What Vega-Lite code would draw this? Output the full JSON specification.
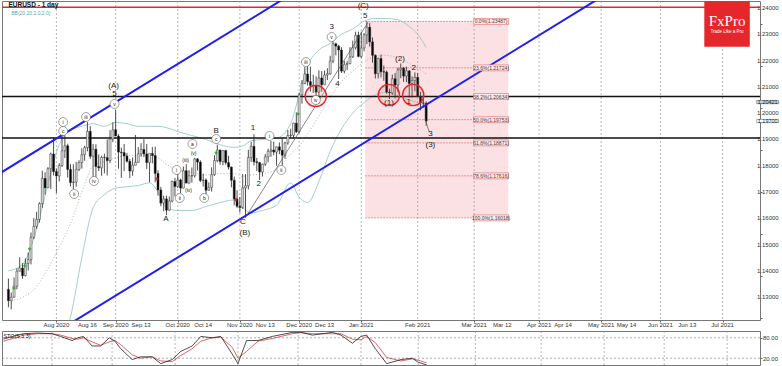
{
"$schema":"https://vega.github.io/schema/vega-lite/v6.json",
"padding":0,
"background":"white",
"spacing":1,
"config":{"view":{"stroke":"#777","strokeWidth":1},"font":"Liberation Sans","axis":{"title":null,"grid":false}},
"datasets":{
"c":[
{"i":0,"o":1.1330,"h":1.1371,"l":1.1262,"c":1.1287},{"i":1,"o":1.1287,"h":1.1318,"l":1.1254,"c":1.1300},{"i":2,"o":1.1300,"h":1.1375,"l":1.1298,"c":1.1342},{"i":3,"o":1.1342,"h":1.1410,"l":1.1330,"c":1.1399},{"i":4,"o":1.1399,"h":1.1452,"l":1.1398,"c":1.1411},{"i":5,"o":1.1411,"h":1.1430,"l":1.1370,"c":1.1382},{"i":6,"o":1.1382,"h":1.1448,"l":1.1379,"c":1.1428},{"i":7,"o":1.1428,"h":1.1470,"l":1.1402,"c":1.1443},{"i":8,"o":1.1443,"h":1.1546,"l":1.1425,"c":1.1528},{"i":9,"o":1.1528,"h":1.1601,"l":1.1521,"c":1.1570},
{"i":10,"o":1.1570,"h":1.1625,"l":1.1560,"c":1.1596},{"i":11,"o":1.1596,"h":1.1661,"l":1.1584,"c":1.1656},{"i":12,"o":1.1656,"h":1.1781,"l":1.1640,"c":1.1752},{"i":13,"o":1.1752,"h":1.1775,"l":1.1690,"c":1.1716},{"i":14,"o":1.1716,"h":1.1795,"l":1.1715,"c":1.1789},{"i":15,"o":1.1789,"h":1.1850,"l":1.1712,"c":1.1845},{"i":16,"o":1.1845,"h":1.1909,"l":1.1763,"c":1.1778},{"i":17,"o":1.1778,"h":1.1790,"l":1.1696,"c":1.1761},{"i":18,"o":1.1761,"h":1.1810,"l":1.1740,"c":1.1801},{"i":19,"o":1.1801,"h":1.1916,"l":1.1795,"c":1.1857},
{"i":20,"o":1.1857,"h":1.1916,"l":1.1829,"c":1.1876},{"i":21,"o":1.1876,"h":1.1884,"l":1.1755,"c":1.1786},{"i":22,"o":1.1786,"h":1.1806,"l":1.1721,"c":1.1736},{"i":23,"o":1.1736,"h":1.1806,"l":1.1711,"c":1.1738},{"i":24,"o":1.1738,"h":1.1815,"l":1.1720,"c":1.1786},{"i":25,"o":1.1786,"h":1.1821,"l":1.1779,"c":1.1812},{"i":26,"o":1.1812,"h":1.1866,"l":1.1789,"c":1.1842},{"i":27,"o":1.1842,"h":1.1876,"l":1.1819,"c":1.1869},{"i":28,"o":1.1869,"h":1.1966,"l":1.1855,"c":1.1931},{"i":29,"o":1.1931,"h":1.1951,"l":1.1826,"c":1.1836},
{"i":30,"o":1.1836,"h":1.1883,"l":1.1753,"c":1.1863},{"i":31,"o":1.1863,"h":1.1882,"l":1.1753,"c":1.1797},{"i":32,"o":1.1797,"h":1.1843,"l":1.1780,"c":1.1792},{"i":33,"o":1.1792,"h":1.1838,"l":1.1762,"c":1.1832},{"i":34,"o":1.1832,"h":1.1846,"l":1.1771,"c":1.1831},{"i":35,"o":1.1831,"h":1.1900,"l":1.1763,"c":1.1820},{"i":36,"o":1.1820,"h":1.1935,"l":1.1810,"c":1.1902},{"i":37,"o":1.1902,"h":1.1965,"l":1.1890,"c":1.1937},{"i":38,"o":1.1937,"h":1.2011,"l":1.1914,"c":1.1913},{"i":39,"o":1.1913,"h":1.1920,"l":1.1789,"c":1.1852},
{"i":40,"o":1.1852,"h":1.1869,"l":1.1754,"c":1.1850},{"i":41,"o":1.1850,"h":1.1883,"l":1.1780,"c":1.1837},{"i":42,"o":1.1837,"h":1.1849,"l":1.1812,"c":1.1817},{"i":43,"o":1.1817,"h":1.1826,"l":1.1753,"c":1.1780},{"i":44,"o":1.1780,"h":1.1831,"l":1.1762,"c":1.1802},{"i":45,"o":1.1802,"h":1.1917,"l":1.1802,"c":1.1813},{"i":46,"o":1.1813,"h":1.1871,"l":1.1812,"c":1.1845},{"i":47,"o":1.1845,"h":1.1886,"l":1.1834,"c":1.1862},{"i":48,"o":1.1862,"h":1.1901,"l":1.1833,"c":1.1845},{"i":49,"o":1.1845,"h":1.1883,"l":1.1788,"c":1.1812},
{"i":50,"o":1.1812,"h":1.1826,"l":1.1737,"c":1.1847},{"i":51,"o":1.1847,"h":1.1871,"l":1.1809,"c":1.1839},{"i":52,"o":1.1839,"h":1.1873,"l":1.1737,"c":1.1771},{"i":53,"o":1.1771,"h":1.1783,"l":1.1686,"c":1.1708},{"i":54,"o":1.1708,"h":1.1720,"l":1.1646,"c":1.1658},{"i":55,"o":1.1658,"h":1.1686,"l":1.1627,"c":1.1674},{"i":56,"o":1.1674,"h":1.1686,"l":1.1612,"c":1.1631},{"i":57,"o":1.1631,"h":1.1683,"l":1.1629,"c":1.1666},{"i":58,"o":1.1666,"h":1.1744,"l":1.1661,"c":1.1740},{"i":59,"o":1.1740,"h":1.1754,"l":1.1684,"c":1.1721},
{"i":60,"o":1.1721,"h":1.1771,"l":1.1715,"c":1.1746},{"i":61,"o":1.1746,"h":1.1751,"l":1.1696,"c":1.1715},{"i":62,"o":1.1715,"h":1.1797,"l":1.1714,"c":1.1781},{"i":63,"o":1.1781,"h":1.1806,"l":1.1737,"c":1.1734},{"i":64,"o":1.1734,"h":1.1783,"l":1.1732,"c":1.1762},{"i":65,"o":1.1762,"h":1.1794,"l":1.1736,"c":1.1762},{"i":66,"o":1.1762,"h":1.1830,"l":1.1755,"c":1.1826},{"i":67,"o":1.1826,"h":1.1829,"l":1.1782,"c":1.1814},{"i":68,"o":1.1814,"h":1.1821,"l":1.1738,"c":1.1744},{"i":69,"o":1.1744,"h":1.1770,"l":1.1721,"c":1.1746},
{"i":70,"o":1.1746,"h":1.1752,"l":1.1689,"c":1.1707},{"i":71,"o":1.1707,"h":1.1737,"l":1.1705,"c":1.1718},{"i":72,"o":1.1718,"h":1.1794,"l":1.1702,"c":1.1766},{"i":73,"o":1.1766,"h":1.1840,"l":1.1762,"c":1.1820},{"i":74,"o":1.1820,"h":1.1880,"l":1.1813,"c":1.1860},{"i":75,"o":1.1860,"h":1.1861,"l":1.1804,"c":1.1816},{"i":76,"o":1.1816,"h":1.1860,"l":1.1802,"c":1.1858},{"i":77,"o":1.1858,"h":1.1861,"l":1.1804,"c":1.1812},{"i":78,"o":1.1812,"h":1.1838,"l":1.1786,"c":1.1795},{"i":79,"o":1.1795,"h":1.1797,"l":1.1718,"c":1.1745},
{"i":80,"o":1.1745,"h":1.1759,"l":1.1650,"c":1.1674},{"i":81,"o":1.1674,"h":1.1707,"l":1.1640,"c":1.1646},{"i":82,"o":1.1646,"h":1.1681,"l":1.1622,"c":1.1641},{"i":83,"o":1.1641,"h":1.1769,"l":1.1636,"c":1.1716},{"i":84,"o":1.1716,"h":1.1768,"l":1.1603,"c":1.1724},{"i":85,"o":1.1724,"h":1.1861,"l":1.1710,"c":1.1831},{"i":86,"o":1.1831,"h":1.1891,"l":1.1815,"c":1.1874},{"i":87,"o":1.1874,"h":1.1920,"l":1.1801,"c":1.1815},{"i":88,"o":1.1815,"h":1.1830,"l":1.1780,"c":1.1812},{"i":89,"o":1.1812,"h":1.1815,"l":1.1746,"c":1.1776},
{"i":90,"o":1.1776,"h":1.1808,"l":1.1759,"c":1.1806},{"i":91,"o":1.1806,"h":1.1845,"l":1.1799,"c":1.1834},{"i":92,"o":1.1834,"h":1.1865,"l":1.1813,"c":1.1855},{"i":93,"o":1.1855,"h":1.1894,"l":1.1834,"c":1.1860},{"i":94,"o":1.1860,"h":1.1892,"l":1.1840,"c":1.1852},{"i":95,"o":1.1852,"h":1.1873,"l":1.1800,"c":1.1872},{"i":96,"o":1.1872,"h":1.1889,"l":1.1844,"c":1.1859},{"i":97,"o":1.1859,"h":1.1906,"l":1.1801,"c":1.1840},{"i":98,"o":1.1840,"h":1.1891,"l":1.1826,"c":1.1887},{"i":99,"o":1.1887,"h":1.1936,"l":1.1880,"c":1.1915},
{"i":100,"o":1.1915,"h":1.1941,"l":1.1905,"c":1.1916},{"i":101,"o":1.1916,"h":1.1964,"l":1.1903,"c":1.1962},{"i":102,"o":1.1962,"h":1.2003,"l":1.1925,"c":1.1929},{"i":103,"o":1.1929,"h":1.2077,"l":1.1923,"c":1.2070},{"i":104,"o":1.2070,"h":1.2126,"l":1.2036,"c":1.2113},{"i":105,"o":1.2113,"h":1.2176,"l":1.2110,"c":1.2149},{"i":106,"o":1.2149,"h":1.2178,"l":1.2105,"c":1.2120},{"i":107,"o":1.2120,"h":1.2177,"l":1.2082,"c":1.2106},{"i":108,"o":1.2106,"h":1.2146,"l":1.2077,"c":1.2105},{"i":109,"o":1.2105,"h":1.2140,"l":1.2058,"c":1.2080},
{"i":110,"o":1.2080,"h":1.2163,"l":1.2036,"c":1.2134},{"i":111,"o":1.2134,"h":1.2160,"l":1.2081,"c":1.2108},{"i":112,"o":1.2108,"h":1.2162,"l":1.2107,"c":1.2145},{"i":113,"o":1.2145,"h":1.2171,"l":1.2126,"c":1.2150},{"i":114,"o":1.2150,"h":1.2218,"l":1.2146,"c":1.2198},{"i":115,"o":1.2198,"h":1.2273,"l":1.2190,"c":1.2264},{"i":116,"o":1.2264,"h":1.2268,"l":1.2220,"c":1.2255},{"i":117,"o":1.2255,"h":1.2260,"l":1.2130,"c":1.2240},{"i":118,"o":1.2240,"h":1.2251,"l":1.2153,"c":1.2160},{"i":119,"o":1.2160,"h":1.2199,"l":1.2151,"c":1.2186},
{"i":120,"o":1.2186,"h":1.2199,"l":1.2164,"c":1.2188},{"i":121,"o":1.2188,"h":1.2251,"l":1.2186,"c":1.2214},{"i":122,"o":1.2214,"h":1.2276,"l":1.2210,"c":1.2249},{"i":123,"o":1.2249,"h":1.2310,"l":1.2242,"c":1.2296},{"i":124,"o":1.2296,"h":1.2310,"l":1.2212,"c":1.2216},{"i":125,"o":1.2216,"h":1.2310,"l":1.2210,"c":1.2248},{"i":126,"o":1.2248,"h":1.2305,"l":1.2235,"c":1.2298},{"i":127,"o":1.2298,"h":1.2349,"l":1.2263,"c":1.2327},{"i":128,"o":1.2327,"h":1.2343,"l":1.2253,"c":1.2271},{"i":129,"o":1.2271,"h":1.2288,"l":1.2192,"c":1.2220},
{"i":130,"o":1.2220,"h":1.2224,"l":1.2132,"c":1.2150},{"i":131,"o":1.2150,"h":1.2211,"l":1.2132,"c":1.2208},{"i":132,"o":1.2208,"h":1.2223,"l":1.2136,"c":1.2158},{"i":133,"o":1.2158,"h":1.2181,"l":1.2123,"c":1.2156},{"i":134,"o":1.2156,"h":1.2162,"l":1.2074,"c":1.2080},{"i":135,"o":1.2080,"h":1.2093,"l":1.2054,"c":1.2077},{"i":136,"o":1.2077,"h":1.2147,"l":1.2070,"c":1.2131},{"i":137,"o":1.2131,"h":1.2153,"l":1.2056,"c":1.2107},{"i":138,"o":1.2107,"h":1.2173,"l":1.2080,"c":1.2165},{"i":139,"o":1.2165,"h":1.2189,"l":1.2133,"c":1.2171},
{"i":140,"o":1.2171,"h":1.2176,"l":1.2119,"c":1.2141},{"i":141,"o":1.2141,"h":1.2177,"l":1.2118,"c":1.2161},{"i":142,"o":1.2161,"h":1.2163,"l":1.2059,"c":1.2113},{"i":143,"o":1.2113,"h":1.2140,"l":1.2059,"c":1.2124},{"i":144,"o":1.2124,"h":1.2155,"l":1.2083,"c":1.2136},{"i":145,"o":1.2136,"h":1.2153,"l":1.2062,"c":1.2063},{"i":146,"o":1.2063,"h":1.2081,"l":1.2011,"c":1.2039},{"i":147,"o":1.2039,"h":1.2067,"l":1.2021,"c":1.2038},{"i":148,"o":1.2038,"h":1.2045,"l":1.1952,"c":1.1970}
],
"bb":[
{"i":0,"u":1.1400,"m":1.1286,"lo":1.1172},{"i":5,"u":1.1425,"m":1.1300,"lo":1.1175},{"i":10,"u":1.1560,"m":1.1340,"lo":1.1120},{"i":14,"u":1.1730,"m":1.1410,"lo":1.1090},{"i":18,"u":1.1880,"m":1.1490,"lo":1.1100},{"i":22,"u":1.1935,"m":1.1580,"lo":1.1225},{"i":26,"u":1.1950,"m":1.1700,"lo":1.1450},{"i":30,"u":1.1960,"m":1.1800,"lo":1.1640},{"i":34,"u":1.1950,"m":1.1815,"lo":1.1690},{"i":38,"u":1.1965,"m":1.1830,"lo":1.1715},{"i":42,"u":1.1960,"m":1.1840,"lo":1.1720},{"i":46,"u":1.1950,"m":1.1840,"lo":1.1725},{"i":50,"u":1.1950,"m":1.1840,"lo":1.1735},{"i":53,"u":1.1950,"m":1.1830,"lo":1.1700},{"i":56,"u":1.1945,"m":1.1805,"lo":1.1640},{"i":60,"u":1.1930,"m":1.1785,"lo":1.1630},{"i":65,"u":1.1915,"m":1.1775,"lo":1.1630},{"i":70,"u":1.1900,"m":1.1765,"lo":1.1645},{"i":75,"u":1.1880,"m":1.1770,"lo":1.1660},{"i":80,"u":1.1870,"m":1.1770,"lo":1.1670},{"i":83,"u":1.1875,"m":1.1760,"lo":1.1640},{"i":86,"u":1.1895,"m":1.1765,"lo":1.1620},{"i":90,"u":1.1900,"m":1.1770,"lo":1.1630},{"i":95,"u":1.1905,"m":1.1785,"lo":1.1650},{"i":100,"u":1.1960,"m":1.1845,"lo":1.1735},{"i":103,"u":1.2070,"m":1.1875,"lo":1.1680},{"i":106,"u":1.2180,"m":1.1920,"lo":1.1660},{"i":110,"u":1.2240,"m":1.1990,"lo":1.1740},{"i":114,"u":1.2265,"m":1.2060,"lo":1.1855},{"i":118,"u":1.2300,"m":1.2120,"lo":1.1940},{"i":122,"u":1.2320,"m":1.2160,"lo":1.2000},{"i":126,"u":1.2350,"m":1.2195,"lo":1.2040},{"i":130,"u":1.2360,"m":1.2215,"lo":1.2070},{"i":134,"u":1.2360,"m":1.2220,"lo":1.2080},{"i":138,"u":1.2355,"m":1.2210,"lo":1.2065},{"i":142,"u":1.2330,"m":1.2190,"lo":1.2050},{"i":145,"u":1.2300,"m":1.2170,"lo":1.2040},{"i":148,"u":1.2250,"m":1.2150,"lo":1.2020}
],
"grid":[{"i":17},{"i":38},{"i":60},{"i":82},{"i":103},{"i":125},{"i":145},{"i":165},{"i":188},{"i":210},{"i":231},{"i":253}],
"xlab":[{"i":17,"t":"Aug 2020"},{"i":28,"t":"Aug 16"},{"i":38,"t":"Sep 2020"},{"i":47,"t":"Sep 13"},{"i":60,"t":"Oct 2020"},{"i":69,"t":"Oct 14"},{"i":82,"t":"Nov 2020"},{"i":91,"t":"Nov 13"},{"i":103,"t":"Dec 2020"},{"i":112,"t":"Dec 13"},{"i":125,"t":"Jan 2021"},{"i":145,"t":"Feb 2021"},{"i":165,"t":"Mar 2021"},{"i":175,"t":"Mar 12"},{"i":188,"t":"Apr 2021"},{"i":196.5,"t":"Apr 14"},{"i":210,"t":"May 2021"},{"i":219,"t":"May 14"},{"i":231,"t":"Jun 2021"},{"i":240.5,"t":"Jun 13"},{"i":253,"t":"Jul 2021"}],
"ylab":[{"p":1.13,"t":"1.13000"},{"p":1.14,"t":"1.14000"},{"p":1.15,"t":"1.15000"},{"p":1.16,"t":"1.16000"},{"p":1.17,"t":"1.17000"},{"p":1.18,"t":"1.18000"},{"p":1.19,"t":"1.19000"},{"p":1.2,"t":"1.20000"},{"p":1.21,"t":"1.21000"},{"p":1.22,"t":"1.22000"},{"p":1.23,"t":"1.23000"},{"p":1.24,"t":"1.24000"}],
"hl":[{"p":1.2403,"k":"red"},{"p":1.2063,"k":"black"},{"p":1.1906,"k":"black"}],
"seg":[{"i":-10,"i2":110,"p":1.17253,"p2":1.25173,"k":"blue"},{"i":15,"i2":220,"p":1.11543,"p2":1.25073,"k":"blue"},{"i":84,"i2":127.3,"p":1.1603,"p2":1.2344,"k":"trend"},{"i":147.6,"i2":149.1,"p":1.1978,"p2":1.1928,"k":"trend"}],
"fibbox":[{"i":126.4,"i2":177.1,"p":1.23487,"p2":1.16018}],
"fib":[{"p":1.23487,"t":"0.0%(1.23487)"},{"p":1.21724,"t":"23.6%(1.21724)"},{"p":1.20634,"t":"38.2%(1.20634)"},{"p":1.19753,"t":"50.0%(1.19753)"},{"p":1.18871,"t":"61.8%(1.18871)"},{"p":1.17616,"t":"78.6%(1.17616)"},{"p":1.16018,"t":"100.0%(1.16018)"}],
"circ":[{"i":108.9,"p":1.20654},{"i":134.8,"p":1.20692},{"i":143.4,"p":1.20692}],
"wl":[{"i":37.3,"p":1.21033,"t":"(A)"},{"i":37.6,"p":1.20729,"t":"5"},{"i":125.7,"p":1.24076,"t":"(C)"},{"i":126.4,"p":1.23696,"t":"5"},{"i":114.5,"p":1.23277,"t":"3"},{"i":116.6,"p":1.21109,"t":"4"},{"i":73.6,"p":1.19322,"t":"B"},{"i":55.8,"p":1.15975,"t":"A"},{"i":83.1,"p":1.15861,"t":"C"},{"i":83.8,"p":1.15443,"t":"(B)"},{"i":86.6,"p":1.19436,"t":"1"},{"i":88.7,"p":1.17306,"t":"2"},{"i":134.8,"p":1.20387,"t":"(1)"},{"i":138.7,"p":1.2206,"t":"(2)"},{"i":141.8,"p":1.20425,"t":"1"},{"i":143.6,"p":1.21718,"t":"2"},{"i":149.5,"p":1.19208,"t":"3"},{"i":149.5,"p":1.18789,"t":"(3)"}],
"wc":[{"i":37.6,"p":1.20349,"t":"v"},{"i":19.4,"p":1.19664,"t":"i"},{"i":19.4,"p":1.19322,"t":"c"},{"i":27.5,"p":1.19854,"t":"iii"},{"i":23.3,"p":1.16926,"t":"ii"},{"i":30.3,"p":1.1742,"t":"iv"},{"i":65.2,"p":1.18828,"t":"a"},{"i":73.6,"p":1.19018,"t":"c"},{"i":59.6,"p":1.17839,"t":"i"},{"i":60.7,"p":1.16774,"t":"ii"},{"i":69.4,"p":1.16774,"t":"b"},{"i":92.5,"p":1.19132,"t":"i"},{"i":96.7,"p":1.17839,"t":"ii"},{"i":105.4,"p":1.21946,"t":"iii"},{"i":108.9,"p":1.20501,"t":"iv"},{"i":114.5,"p":1.22897,"t":"v"}],
"wp":[{"i":65.6,"p":1.18485,"t":"(v)"},{"i":62.8,"p":1.18219,"t":"(iii)"},{"i":63.8,"p":1.17078,"t":"(iv)"}],
"frac":[{"i":2,"p":1.1335,"k":"up"},{"i":5.8,"p":1.1419,"k":"up"},{"i":7.5,"p":1.1484,"k":"up"},{"i":73.6,"p":1.1849,"k":"up"},{"i":102.6,"p":1.1997,"k":"up"},{"i":52.6,"p":1.175,"k":"dn"},{"i":80.6,"p":1.167,"k":"dn"}],
"tag":[{"i":269.0,"p":1.20421,"t":"1.20421","k":"a"},{"i":269.0,"p":1.197,"t":"1.19700","k":"b"}],
"logo":[{"i":254.6,"p":1.23391}],
"sto":[{"i":0,"k":76,"d":70},{"i":4,"k":86,"d":80},{"i":7,"k":92,"d":88},{"i":12,"k":94,"d":92},{"i":17,"k":92,"d":92},{"i":20,"k":84,"d":88},{"i":24,"k":72,"d":78},{"i":26,"k":80,"d":76},{"i":28,"k":84,"d":80},{"i":31,"k":56,"d":68},{"i":34,"k":56,"d":58},{"i":37,"k":80,"d":68},{"i":39,"k":70,"d":72},{"i":41,"k":48,"d":60},{"i":45,"k":16,"d":30},{"i":48,"k":24,"d":20},{"i":52,"k":24,"d":24},{"i":55,"k":4,"d":12},{"i":59,"k":16,"d":10},{"i":62,"k":40,"d":28},{"i":66,"k":56,"d":48},{"i":69,"k":84,"d":70},{"i":73,"k":80,"d":80},{"i":76,"k":84,"d":82},{"i":80,"k":32,"d":52},{"i":82,"k":4,"d":20},{"i":85,"k":72,"d":40},{"i":89,"k":72,"d":70},{"i":94,"k":84,"d":78},{"i":101,"k":96,"d":92},{"i":104,"k":96,"d":95},{"i":108,"k":88,"d":92},{"i":115,"k":96,"d":92},{"i":118,"k":88,"d":92},{"i":122,"k":64,"d":76},{"i":125,"k":84,"d":74},{"i":127,"k":88,"d":84},{"i":130,"k":48,"d":66},{"i":134,"k":4,"d":22},{"i":139,"k":16,"d":12},{"i":143,"k":20,"d":18},{"i":145,"k":8,"d":14},{"i":148,"k":0,"d":6}],
"lvl":[{"v":80},{"v":20}]
},
"vconcat":[
{
"width":758,"height":319,
"layer":[
{"data":{"name":"fibbox"},"mark":{"type":"rect","fill":"#fbe1e3"},
 "encoding":{"x":{"field":"i","type":"quantitative","scale":{"domain":[-0.5,264.5],"nice":false,"zero":false},
 "axis":{"orient":"bottom","title":null,"grid":false,"domain":false,"tickSize":2,"tickColor":"#666","labels":false,
 "values":[17,28,38,47,60,69,82,91,103,112,125,145,165,175,188,196.5,210,219,231,240.5,253]}},
 "x2":{"field":"i2"},
 "y":{"field":"p","type":"quantitative","scale":{"domain":[1.12134,1.24266],"nice":false,"zero":false},
 "axis":{"orient":"right","title":null,"grid":false,"domain":false,"tickSize":2,"tickColor":"#666","labels":false,
 "values":[1.122,1.124,1.126,1.128,1.13,1.132,1.134,1.136,1.138,1.14,1.142,1.144,1.146,1.148,1.15,1.152,1.154,1.156,1.158,1.16,1.162,1.164,1.166,1.168,1.17,1.172,1.174,1.176,1.178,1.18,1.182,1.184,1.186,1.188,1.19,1.192,1.194,1.196,1.198,1.2,1.202,1.204,1.206,1.208,1.21,1.212,1.214,1.216,1.218,1.22,1.222,1.224,1.226,1.228,1.23,1.232,1.234,1.236,1.238,1.24,1.242]}},
 "y2":{"field":"p2"}}},
{"data":{"name":"grid"},"mark":{"type":"rule","color":"#9a9a9a","strokeDash":[2,2],"strokeWidth":0.7},
 "encoding":{"x":{"field":"i","type":"quantitative"}}},
{"data":{"name":"xlab"},"mark":{"type":"text","fontSize":6,"color":"#333","baseline":"top","align":"center"},
 "encoding":{"x":{"field":"i","type":"quantitative"},"y":{"datum":1.1205,"type":"quantitative"},"text":{"field":"t"}}},
{"data":{"name":"ylab"},"mark":{"type":"text","fontSize":6,"color":"#333","baseline":"middle","align":"left"},
 "encoding":{"x":{"datum":265.2,"type":"quantitative"},"y":{"field":"p","type":"quantitative"},"text":{"field":"t"}}},
{"data":{"name":"fib"},"mark":{"type":"rule","color":"#e36a6a","strokeDash":[2,1],"strokeWidth":0.7},
 "encoding":{"x":{"datum":126.4,"type":"quantitative"},"x2":{"datum":177.1},"y":{"field":"p","type":"quantitative"}}},
{"data":{"name":"bb"},"mark":{"type":"line","color":"#9cc7cb","strokeWidth":0.9,"clip":true,"interpolate":"monotone"},
 "encoding":{"x":{"field":"i","type":"quantitative"},"y":{"field":"u","type":"quantitative"}}},
{"data":{"name":"bb"},"mark":{"type":"line","color":"#9cc7cb","strokeWidth":0.9,"clip":true,"interpolate":"monotone"},
 "encoding":{"x":{"field":"i","type":"quantitative"},"y":{"field":"lo","type":"quantitative"}}},
{"data":{"name":"bb"},"mark":{"type":"line","color":"#a0a0a0","strokeWidth":0.8,"strokeDash":[1,2],"clip":true,"interpolate":"monotone"},
 "encoding":{"x":{"field":"i","type":"quantitative"},"y":{"field":"m","type":"quantitative"}}},
{"data":{"name":"hl"},"mark":{"type":"rule","strokeWidth":1.5},
 "encoding":{"y":{"field":"p","type":"quantitative"},"color":{"condition":{"test":"datum.k == 'red'","value":"#e0282e"},"value":"#111111"}}},
{"data":{"name":"c"},"mark":{"type":"rule","color":"#222","strokeWidth":0.8},
 "encoding":{"x":{"field":"i","type":"quantitative"},"y":{"field":"l","type":"quantitative"},"y2":{"field":"h"}}},
{"data":{"name":"c"},"mark":{"type":"bar","width":2,"stroke":"#333","strokeWidth":0.5},
 "encoding":{"x":{"field":"i","type":"quantitative"},"y":{"field":"o","type":"quantitative"},"y2":{"field":"c"},
 "fill":{"condition":{"test":"datum.c >= datum.o","value":"#e4e4e4"},"value":"#000000"}}},
{"data":{"name":"frac"},"mark":{"type":"point","shape":"cross","size":10,"filled":true,"opacity":1},
 "encoding":{"x":{"field":"i","type":"quantitative"},"y":{"field":"p","type":"quantitative"},"color":{"condition":{"test":"datum.k == 'up'","value":"#2fa82f"},"value":"#d02020"}}},
{"data":{"name":"seg"},"mark":{"type":"rule","clip":true},
 "encoding":{"x":{"field":"i","type":"quantitative"},"x2":{"field":"i2"},"y":{"field":"p","type":"quantitative"},"y2":{"field":"p2"},
 "color":{"condition":{"test":"datum.k == 'blue'","value":"#1f1ff0"},"value":"#555555"},
 "strokeWidth":{"condition":{"test":"datum.k == 'blue'","value":2},"value":0.7}}},
{"data":{"name":"circ"},"mark":{"type":"point","shape":"circle","size":452,"stroke":"#e3262b","strokeWidth":1.4,"fill":"#f07070","fillOpacity":0.15,"opacity":1},
 "encoding":{"x":{"field":"i","type":"quantitative"},"y":{"field":"p","type":"quantitative"}}},
{"data":{"name":"wc"},"mark":{"type":"point","shape":"circle","size":80,"fill":"#ffffff","fillOpacity":1,"stroke":"#444","strokeWidth":0.5,"opacity":1},
 "encoding":{"x":{"field":"i","type":"quantitative"},"y":{"field":"p","type":"quantitative"}}},
{"data":{"name":"wc"},"mark":{"type":"text","fontSize":5,"color":"#222","baseline":"middle","align":"center"},
 "encoding":{"x":{"field":"i","type":"quantitative"},"y":{"field":"p","type":"quantitative"},"text":{"field":"t"}}},
{"data":{"name":"wp"},"mark":{"type":"text","fontSize":5,"color":"#222","baseline":"middle","align":"center"},
 "encoding":{"x":{"field":"i","type":"quantitative"},"y":{"field":"p","type":"quantitative"},"text":{"field":"t"}}},
{"data":{"name":"wl"},"mark":{"type":"text","fontSize":8,"color":"#222","baseline":"middle","align":"center"},
 "encoding":{"x":{"field":"i","type":"quantitative"},"y":{"field":"p","type":"quantitative"},"text":{"field":"t"}}},
{"data":{"name":"fib"},"mark":{"type":"point","shape":"M-1,-0.17H1V0.17H-1Z","size":1225,"fill":"#fde8ea","fillOpacity":1,"stroke":"#e36a6a","strokeWidth":0.6,"opacity":1},
 "encoding":{"x":{"datum":171.0,"type":"quantitative"},"y":{"field":"p","type":"quantitative"}}},
{"data":{"name":"fib"},"mark":{"type":"text","fontSize":5,"color":"#444","baseline":"middle","align":"center"},
 "encoding":{"x":{"datum":171.0,"type":"quantitative"},"y":{"field":"p","type":"quantitative"},"text":{"field":"t"}}},
{"data":{"name":"tag"},"mark":{"type":"point","shape":"M-1,-0.15H1V0.15H-1Z","size":480,"fillOpacity":1,"stroke":"#556","strokeWidth":0.5,"opacity":1},
 "encoding":{"x":{"field":"i","type":"quantitative"},"y":{"field":"p","type":"quantitative"},"fill":{"condition":{"test":"datum.k == 'a'","value":"#bcd7dd"},"value":"#ffffff"}}},
{"data":{"name":"tag"},"mark":{"type":"text","fontSize":5.5,"color":"#222","baseline":"middle","align":"center"},
 "encoding":{"x":{"field":"i","type":"quantitative"},"y":{"field":"p","type":"quantitative"},"text":{"field":"t"}}},
{"data":{"name":"logo"},"mark":{"type":"point","shape":"square","size":2070,"fill":"#e5262b","fillOpacity":1,"strokeWidth":0,"opacity":1},
 "encoding":{"x":{"field":"i","type":"quantitative"},"y":{"field":"p","type":"quantitative"}}},
{"data":{"name":"logo"},"mark":{"type":"text","text":"FxPro","font":"Liberation Serif","fontSize":15,"color":"#ffffff","baseline":"middle","align":"center","dy":-3},
 "encoding":{"x":{"field":"i","type":"quantitative"},"y":{"field":"p","type":"quantitative"}}},
{"data":{"name":"logo"},"mark":{"type":"text","text":"Trade Like a Pro","fontSize":4.5,"color":"#ffffff","baseline":"middle","align":"center","dy":8},
 "encoding":{"x":{"field":"i","type":"quantitative"},"y":{"field":"p","type":"quantitative"}}},
{"data":{"values":[{"i":0,"p":1.24114,"t":"EURUSD - 1 day"}]},"mark":{"type":"text","fontSize":6.5,"fontWeight":"bold","color":"#111","baseline":"middle","align":"left"},
 "encoding":{"x":{"field":"i","type":"quantitative"},"y":{"field":"p","type":"quantitative"},"text":{"field":"t"}}},
{"data":{"values":[{"i":1,"p":1.2381,"t":"BB(20,20,2.0,2.0)"}]},"mark":{"type":"text","fontSize":5,"color":"#5aa9b0","baseline":"middle","align":"left"},
 "encoding":{"x":{"field":"i","type":"quantitative"},"y":{"field":"p","type":"quantitative"},"text":{"field":"t"}}}
]
},
{
"width":758,"height":34,
"layer":[
{"data":{"name":"grid"},"mark":{"type":"rule","color":"#9a9a9a","strokeDash":[2,2],"strokeWidth":0.7},
 "encoding":{"x":{"field":"i","type":"quantitative","scale":{"domain":[-0.5,264.5],"nice":false,"zero":false},"axis":{"labels":false,"ticks":false,"domain":false,"title":null}}}},
{"data":{"name":"lvl"},"mark":{"type":"rule","color":"#888","strokeDash":[2,2],"strokeWidth":0.7},
 "encoding":{"y":{"field":"v","type":"quantitative","scale":{"domain":[0,100],"nice":false,"zero":false},"axis":{"orient":"right","title":null,"grid":false,"domain":false,"tickSize":2,"tickColor":"#666","labelPadding":0.5,"labelFontSize":6,"labelColor":"#333","values":[20,80],"format":".2f","labelFlush":false}}}},
{"data":{"name":"sto"},"mark":{"type":"line","color":"#d94040","strokeWidth":0.8,"clip":true},
 "encoding":{"x":{"field":"i","type":"quantitative"},"y":{"field":"d","type":"quantitative"}}},
{"data":{"name":"sto"},"mark":{"type":"line","color":"#222","strokeWidth":0.8,"clip":true},
 "encoding":{"x":{"field":"i","type":"quantitative"},"y":{"field":"k","type":"quantitative"}}},
{"data":{"values":[{"i":0,"v":86,"t":"STO(5,3,3)"}]},"mark":{"type":"text","fontSize":5.5,"color":"#111","baseline":"middle","align":"left"},
 "encoding":{"x":{"field":"i","type":"quantitative"},"y":{"field":"v","type":"quantitative"},"text":{"field":"t"}}}
]
}
]
}
